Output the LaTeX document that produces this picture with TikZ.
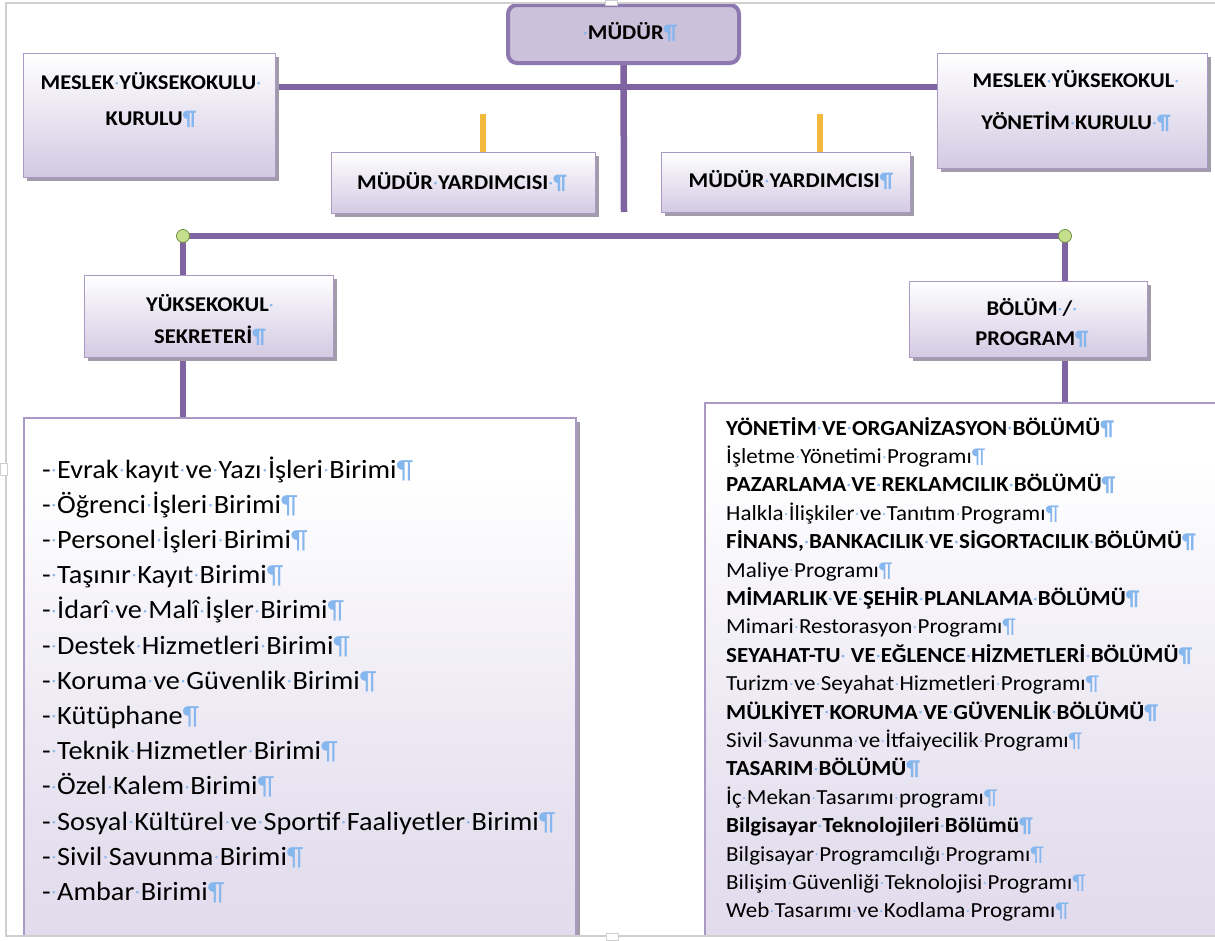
\documentclass[tikz,border=0pt]{standalone}
\usepackage{fontspec}
\setmainfont{Carlito}[FakeStretch=1.07]
\usetikzlibrary{shadows,calc,backgrounds}

\definecolor{pline}{HTML}{8064A2}
\definecolor{mudfill}{HTML}{CCC1DA}
\definecolor{mudborder}{HTML}{8E78B0}
\definecolor{lavb}{HTML}{D3CAE3}
\definecolor{boxborder}{HTML}{A999C4}
\definecolor{shadowc}{HTML}{A29CAA}
\definecolor{yel}{HTML}{F2BA3C}
\definecolor{gfill}{HTML}{C4E08F}
\definecolor{gborder}{HTML}{708F3D}
\definecolor{pilc}{HTML}{86B6EE}
\definecolor{framec}{HTML}{CFCFCF}

\pgfdeclareverticalshading{biglav}{100bp}{color(0bp)=(lavb); color(40bp)=(lavb!55!white); color(70bp)=(white); color(100bp)=(white)}

\newcommand\ws{\makebox[\fontdimen2\font][c]{\raisebox{0.1em}{\textcolor{pilc}{\scalebox{0.65}{·}}}}}
\newcommand\pil{\textcolor{pilc}{¶}}
\newcommand\lline[2]{\node[ltxt] (l#1) at (42,{478+35.2*(#1-1)}) {#2};}
\newcommand\rline[2]{\node[rtxt] (r#1) at (726,{435+28.4*(#1-1)}) {#2};}

\tikzset{
  pl/.style={draw=pline, line width=6.5pt},
  yl/.style={draw=yel, line width=6pt},
  mudbox/.style={draw=mudborder, fill=mudfill, line width=4pt, rounded corners=9pt, inner sep=0pt},
  orgbox/.style={draw=boxborder, line width=1pt, top color=white, bottom color=lavb,
    drop shadow={shadow xshift=3.5pt, shadow yshift=-4pt, fill=shadowc, opacity=1}, inner sep=0pt},
  bigbox/.style={draw=boxborder, line width=1.2pt, shade, shading=biglav,
    drop shadow={shadow xshift=4pt, shadow yshift=-4pt, fill=shadowc, opacity=1}, inner sep=0pt},
  hd/.style={font={\bfseries\fontsize{21}{32}\selectfont}, align=center, inner sep=0pt},
  ltxt/.style={anchor=base west, font={\fontsize{26.4}{30}\selectfont}, inner sep=0pt},
  rtxt/.style={anchor=base west, font={\fontsize{21.5}{24}\selectfont}, inner sep=0pt},
  gdot/.style={circle, fill=gfill, draw=gborder, line width=0.8pt, minimum size=13pt, inner sep=0pt},
  handle/.style={fill=white, draw=framec, line width=0.8pt},
}

\begin{document}
\begin{tikzpicture}[x=1pt,y=-1pt]
\useasboundingbox (0,0) rectangle (1215,940);

\begin{scope}
\clip (6,3) rectangle (1215,936);

% boxes
\node[mudbox, minimum width=231pt, minimum height=58pt] (mudur) at (623.5,34) {};
\node[orgbox, minimum width=252pt, minimum height=124pt] (mykk) at (149,115) {};
\node[orgbox, minimum width=270pt, minimum height=115pt] (mykyk) at (1072,110.5) {};
\node[orgbox, minimum width=264pt, minimum height=61pt] (myl) at (463,182.5) {};
\node[orgbox, minimum width=249pt, minimum height=60pt] (myr) at (785.5,182) {};
\node[orgbox, minimum width=249pt, minimum height=82pt] (ys) at (208.5,316) {};
\node[orgbox, minimum width=238pt, minimum height=76pt] (bp) at (1028,319) {};
\node[bigbox, minimum width=552pt, minimum height=560pt] (llist) at (300,698) {};
\node[bigbox, minimum width=540pt, minimum height=570pt] (rlist) at (975,688) {};

% junction dots
\node[gdot] (c1) at (183,236) {};
\node[gdot] (c2) at (1065,236) {};

% free ends
\coordinate (h1) at (624,87);
\coordinate (mstem) at (624,212);
\coordinate (y1) at (483,114);
\coordinate (y2) at (820,114);

\begin{pgfonlayer}{background}
\fill[white] (0,0) rectangle (1215,940);
\draw[pl] (mudur.south) -- (mstem);
\draw[pl] (mykk.east |- h1) -- (mykyk.west |- h1);
\draw[yl] (y1) -- (y1 |- myl.north);
\draw[yl] (y2) -- (y2 |- myr.north);
\draw[pl] (c1.center) -- (c2.center);
\draw[pl] (c1.center) -- (c1 |- ys.north);
\draw[pl] (c1 |- ys.south) -- (c1 |- llist.north);
\draw[pl] (c2.center) -- (c2 |- bp.north);
\draw[pl] (c2 |- bp.south) -- (c2 |- rlist.north);
\end{pgfonlayer}

% box texts
\node[hd] (tmud) at (630,32) {\ws MÜDÜR\pil};
\node[hd, font={\bfseries\fontsize{21}{36}\selectfont}] (tmykk) at (151,100) {MESLEK\ws YÜKSEKOKULU\ws\\KURULU\pil};
\node[hd, font={\bfseries\fontsize{21}{42}\selectfont}] (tmykyk) at (1076,101) {MESLEK\ws YÜKSEKOKUL\ws\\YÖNETİM\ws KURULU\ws\pil};
\node[hd] (tmyl) at (462,182) {MÜDÜR\ws YARDIMCISI\ws\pil};
\node[hd] (tmyr) at (791,180) {MÜDÜR\ws YARDIMCISI\pil};
\node[hd] (tys) at (210,320) {YÜKSEKOKUL\ws\\SEKRETERİ\pil};
\node[hd, font={\bfseries\fontsize{21}{30}\selectfont}] (tbp) at (1032,323) {BÖLÜM\ws/\ws\\PROGRAM\pil};

% left list
\lline{1}{-\ws Evrak\ws kayıt\ws ve\ws Yazı\ws İşleri\ws Birimi\pil}
\lline{2}{-\ws Öğrenci\ws İşleri\ws Birimi\pil}
\lline{3}{-\ws Personel\ws İşleri\ws Birimi\pil}
\lline{4}{-\ws Taşınır\ws Kayıt\ws Birimi\pil}
\lline{5}{-\ws İdarî\ws ve\ws Malî\ws İşler\ws Birimi\pil}
\lline{6}{-\ws Destek\ws Hizmetleri\ws Birimi\pil}
\lline{7}{-\ws Koruma\ws ve\ws Güvenlik\ws Birimi\pil}
\lline{8}{-\ws Kütüphane\pil}
\lline{9}{-\ws Teknik\ws Hizmetler\ws Birimi\pil}
\lline{10}{-\ws Özel\ws Kalem\ws Birimi\pil}
\lline{11}{-\ws Sosyal\ws Kültürel\ws ve\ws Sportif\ws Faaliyetler\ws Birimi\pil}
\lline{12}{-\ws Sivil\ws Savunma\ws Birimi\pil}
\lline{13}{-\ws Ambar\ws Birimi\pil}

% right list
\rline{1}{\textbf{YÖNETİM\ws VE\ws ORGANİZASYON\ws BÖLÜMÜ\pil}}
\rline{2}{İşletme\ws Yönetimi\ws Programı\pil}
\rline{3}{\textbf{PAZARLAMA\ws VE\ws REKLAMCILIK\ws BÖLÜMÜ\pil}}
\rline{4}{Halkla\ws İlişkiler\ws ve\ws Tanıtım\ws Programı\pil}
\rline{5}{\textbf{FİNANS,\ws BANKACILIK\ws VE\ws SİGORTACILIK\ws BÖLÜMÜ\pil}}
\rline{6}{Maliye\ws Programı\pil}
\rline{7}{\textbf{MİMARLIK\ws VE\ws ŞEHİR\ws PLANLAMA\ws BÖLÜMÜ\pil}}
\rline{8}{Mimari\ws Restorasyon\ws Programı\pil}
\rline{9}{\textbf{SEYAHAT-TU\ws\ VE\ws EĞLENCE\ws HİZMETLERİ\ws BÖLÜMÜ\pil}}
\rline{10}{Turizm\ws ve\ws Seyahat\ws Hizmetleri\ws Programı\pil}
\rline{11}{\textbf{MÜLKİYET\ws KORUMA\ws VE\ws GÜVENLİK\ws BÖLÜMÜ\pil}}
\rline{12}{Sivil\ws Savunma\ws ve\ws İtfaiyecilik\ws Programı\pil}
\rline{13}{\textbf{TASARIM\ws BÖLÜMÜ\pil}}
\rline{14}{İç\ws Mekan\ws Tasarımı\ws programı\pil}
\rline{15}{\textbf{Bilgisayar\ws Teknolojileri\ws Bölümü\pil}}
\rline{16}{Bilgisayar\ws Programcılığı\ws Programı\pil}
\rline{17}{Bilişim\ws Güvenliği\ws Teknolojisi\ws Programı\pil}
\rline{18}{Web\ws Tasarımı\ws ve\ws Kodlama\ws Programı\pil}
\end{scope}

% page frame and handles
\draw[framec, line width=1.2pt] (1215,3) -- (6,3) -- (6,936) -- (1215,936);
\draw[handle] (605,0) rectangle (617,5);
\draw[handle] (606,933) rectangle (618,940);
\draw[handle] (0,463) rectangle (7,475);
\end{tikzpicture}
\end{document}
